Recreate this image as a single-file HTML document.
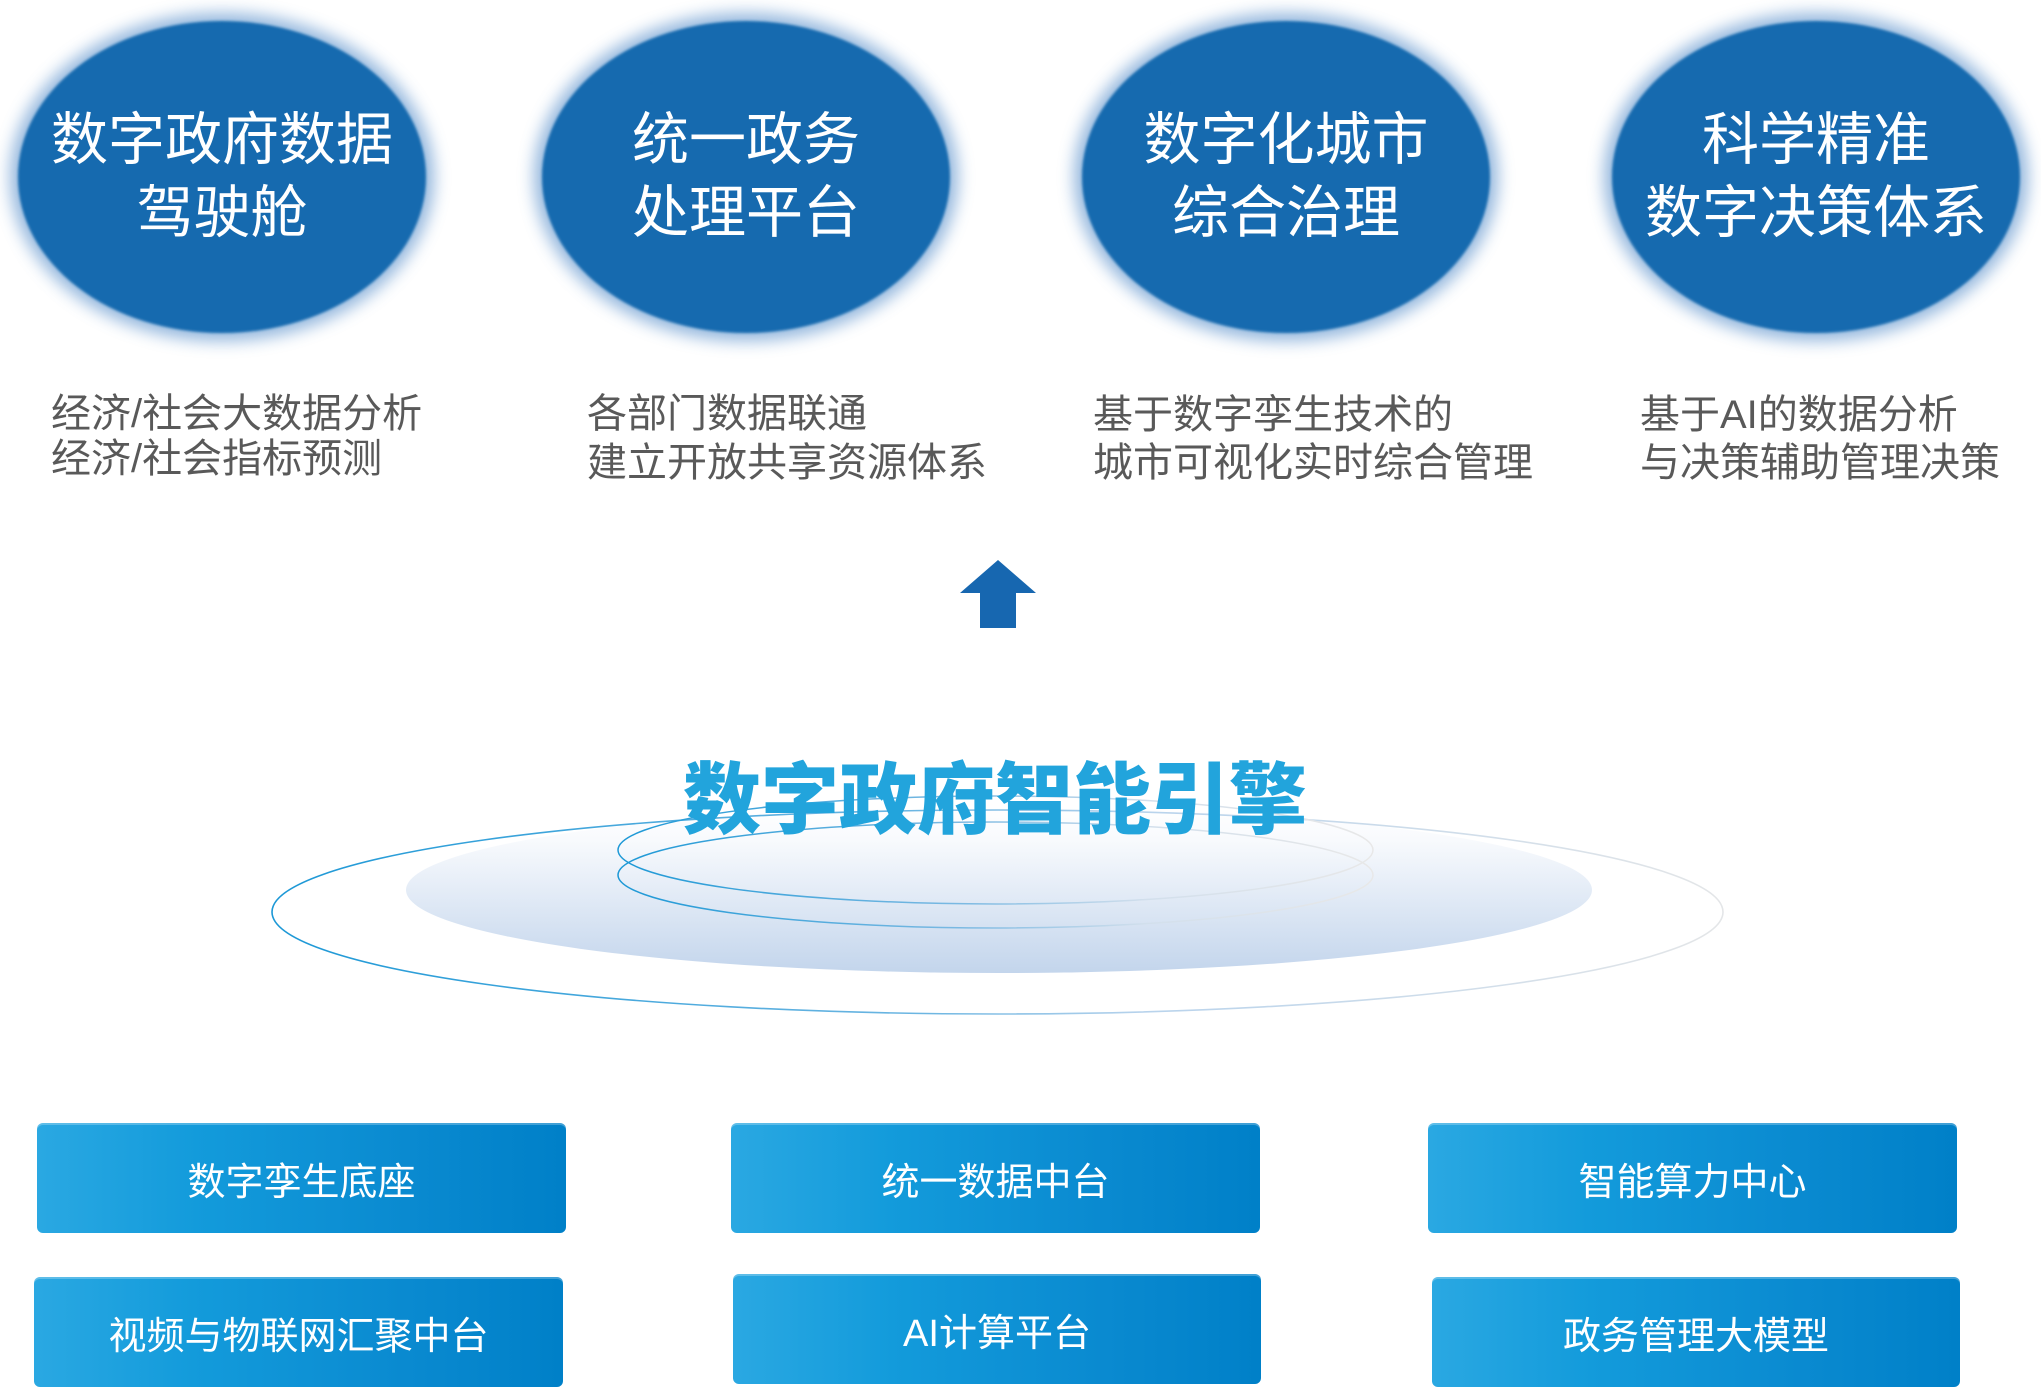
<!DOCTYPE html>
<html>
<head>
<meta charset="utf-8">
<style>
  html,body{margin:0;padding:0;background:#fff;}
  body{width:2041px;height:1388px;position:relative;overflow:hidden;font-family:"Liberation Sans","Noto Sans CJK SC",sans-serif;}
  .abs{position:absolute;white-space:nowrap;}
  .ct{color:#fff;font-size:57px;line-height:72.5px;text-align:center;width:420px;}
  .sub{color:#595959;font-size:40px;}
  .box{position:absolute;height:110px;border-radius:6px;background:linear-gradient(90deg,#2aa8e2 0%,#139bdb 30%,#0a8ad0 70%,#0080c8 100%);box-shadow:inset 0 2px 0 rgba(255,255,255,0.25);color:#fff;font-size:38px;display:flex;align-items:center;justify-content:center;white-space:nowrap;}
</style>
</head>
<body>
<svg class="abs" style="left:0;top:0" width="2041" height="1388" viewBox="0 0 2041 1388">
  <defs>
    <filter id="blur" x="-20%" y="-20%" width="140%" height="140%">
      <feGaussianBlur stdDeviation="8"/>
    </filter>
    <filter id="soft" x="-5%" y="-5%" width="110%" height="110%">
      <feGaussianBlur stdDeviation="1.2"/>
    </filter>
    <linearGradient id="disk" x1="0" y1="0" x2="0" y2="1">
      <stop offset="0" stop-color="#ffffff"/>
      <stop offset="0.2" stop-color="#f8fafd"/>
      <stop offset="1" stop-color="#c3d5ec"/>
    </linearGradient>
    <linearGradient id="ring" gradientUnits="userSpaceOnUse" x1="272" y1="0" x2="1723" y2="0">
      <stop offset="0" stop-color="#1c98d6"/>
      <stop offset="0.45" stop-color="#6db6e2"/>
      <stop offset="0.6" stop-color="#b8d3ec"/>
      <stop offset="1" stop-color="#e4e6e8"/>
    </linearGradient>
    <linearGradient id="ring2" gradientUnits="userSpaceOnUse" x1="618" y1="0" x2="1373" y2="0">
      <stop offset="0" stop-color="#1c98d6"/>
      <stop offset="0.45" stop-color="#7ab9e2"/>
      <stop offset="0.7" stop-color="#d2dfec"/>
      <stop offset="1" stop-color="#e8e8e8"/>
    </linearGradient>
  </defs>

  <g>
    <ellipse cx="222" cy="177" rx="212" ry="164" fill="#6f9fd2" opacity="0.75" filter="url(#blur)"/>
    <ellipse cx="222" cy="177" rx="204" ry="156" fill="#166aaf" filter="url(#soft)"/>
    <ellipse cx="746" cy="177" rx="212" ry="164" fill="#6f9fd2" opacity="0.75" filter="url(#blur)"/>
    <ellipse cx="746" cy="177" rx="204" ry="156" fill="#166aaf" filter="url(#soft)"/>
    <ellipse cx="1286" cy="177" rx="212" ry="164" fill="#6f9fd2" opacity="0.75" filter="url(#blur)"/>
    <ellipse cx="1286" cy="177" rx="204" ry="156" fill="#166aaf" filter="url(#soft)"/>
    <ellipse cx="1816" cy="177" rx="212" ry="164" fill="#6f9fd2" opacity="0.75" filter="url(#blur)"/>
    <ellipse cx="1816" cy="177" rx="204" ry="156" fill="#166aaf" filter="url(#soft)"/>
  </g>

  <polygon points="998,560 1036,593 1016,593 1016,628 980,628 980,593 960,593" fill="#1767b0"/>

  <ellipse cx="999" cy="890" rx="593" ry="83" fill="url(#disk)"/>
  <ellipse cx="997.5" cy="912" rx="725.5" ry="102" fill="none" stroke="url(#ring)" stroke-width="1.6"/>
  <ellipse cx="995.5" cy="850" rx="377.5" ry="54" fill="none" stroke="url(#ring2)" stroke-width="1.5"/>
  <ellipse cx="995.5" cy="875" rx="377.5" ry="53" fill="none" stroke="url(#ring2)" stroke-width="1.5"/>
</svg>

<div class="abs ct" style="left:12px;top:104px;">数字政府数据<br>驾驶舱</div>
<div class="abs ct" style="left:536px;top:104px;">统一政务<br>处理平台</div>
<div class="abs ct" style="left:1076px;top:104px;">数字化城市<br>综合治理</div>
<div class="abs ct" style="left:1606px;top:104px;">科学精准<br>数字决策体系</div>

<div class="abs sub" style="left:51px;top:392px;line-height:45px;">经济/社会大数据分析<br>经济/社会指标预测</div>
<div class="abs sub" style="left:587px;top:390px;line-height:48.5px;">各部门数据联通<br>建立开放共享资源体系</div>
<div class="abs sub" style="left:1093px;top:390.5px;line-height:48px;">基于数字孪生技术的<br>城市可视化实时综合管理</div>
<div class="abs sub" style="left:1640px;top:390.5px;line-height:48px;">基于AI的数据分析<br>与决策辅助管理决策</div>

<div class="abs" style="left:0;top:750px;width:1990px;text-align:center;font-size:78px;line-height:100px;font-weight:900;color:#22a4dc;">数字政府智能引擎</div>

<div class="box" style="left:37px;top:1123px;width:529px;">数字孪生底座</div>
<div class="box" style="left:731px;top:1123px;width:529px;">统一数据中台</div>
<div class="box" style="left:1428px;top:1123px;width:529px;">智能算力中心</div>
<div class="box" style="left:34px;top:1277px;width:529px;">视频与物联网汇聚中台</div>
<div class="box" style="left:733px;top:1274px;width:528px;">AI计算平台</div>
<div class="box" style="left:1432px;top:1277px;width:528px;">政务管理大模型</div>
</body>
</html>
